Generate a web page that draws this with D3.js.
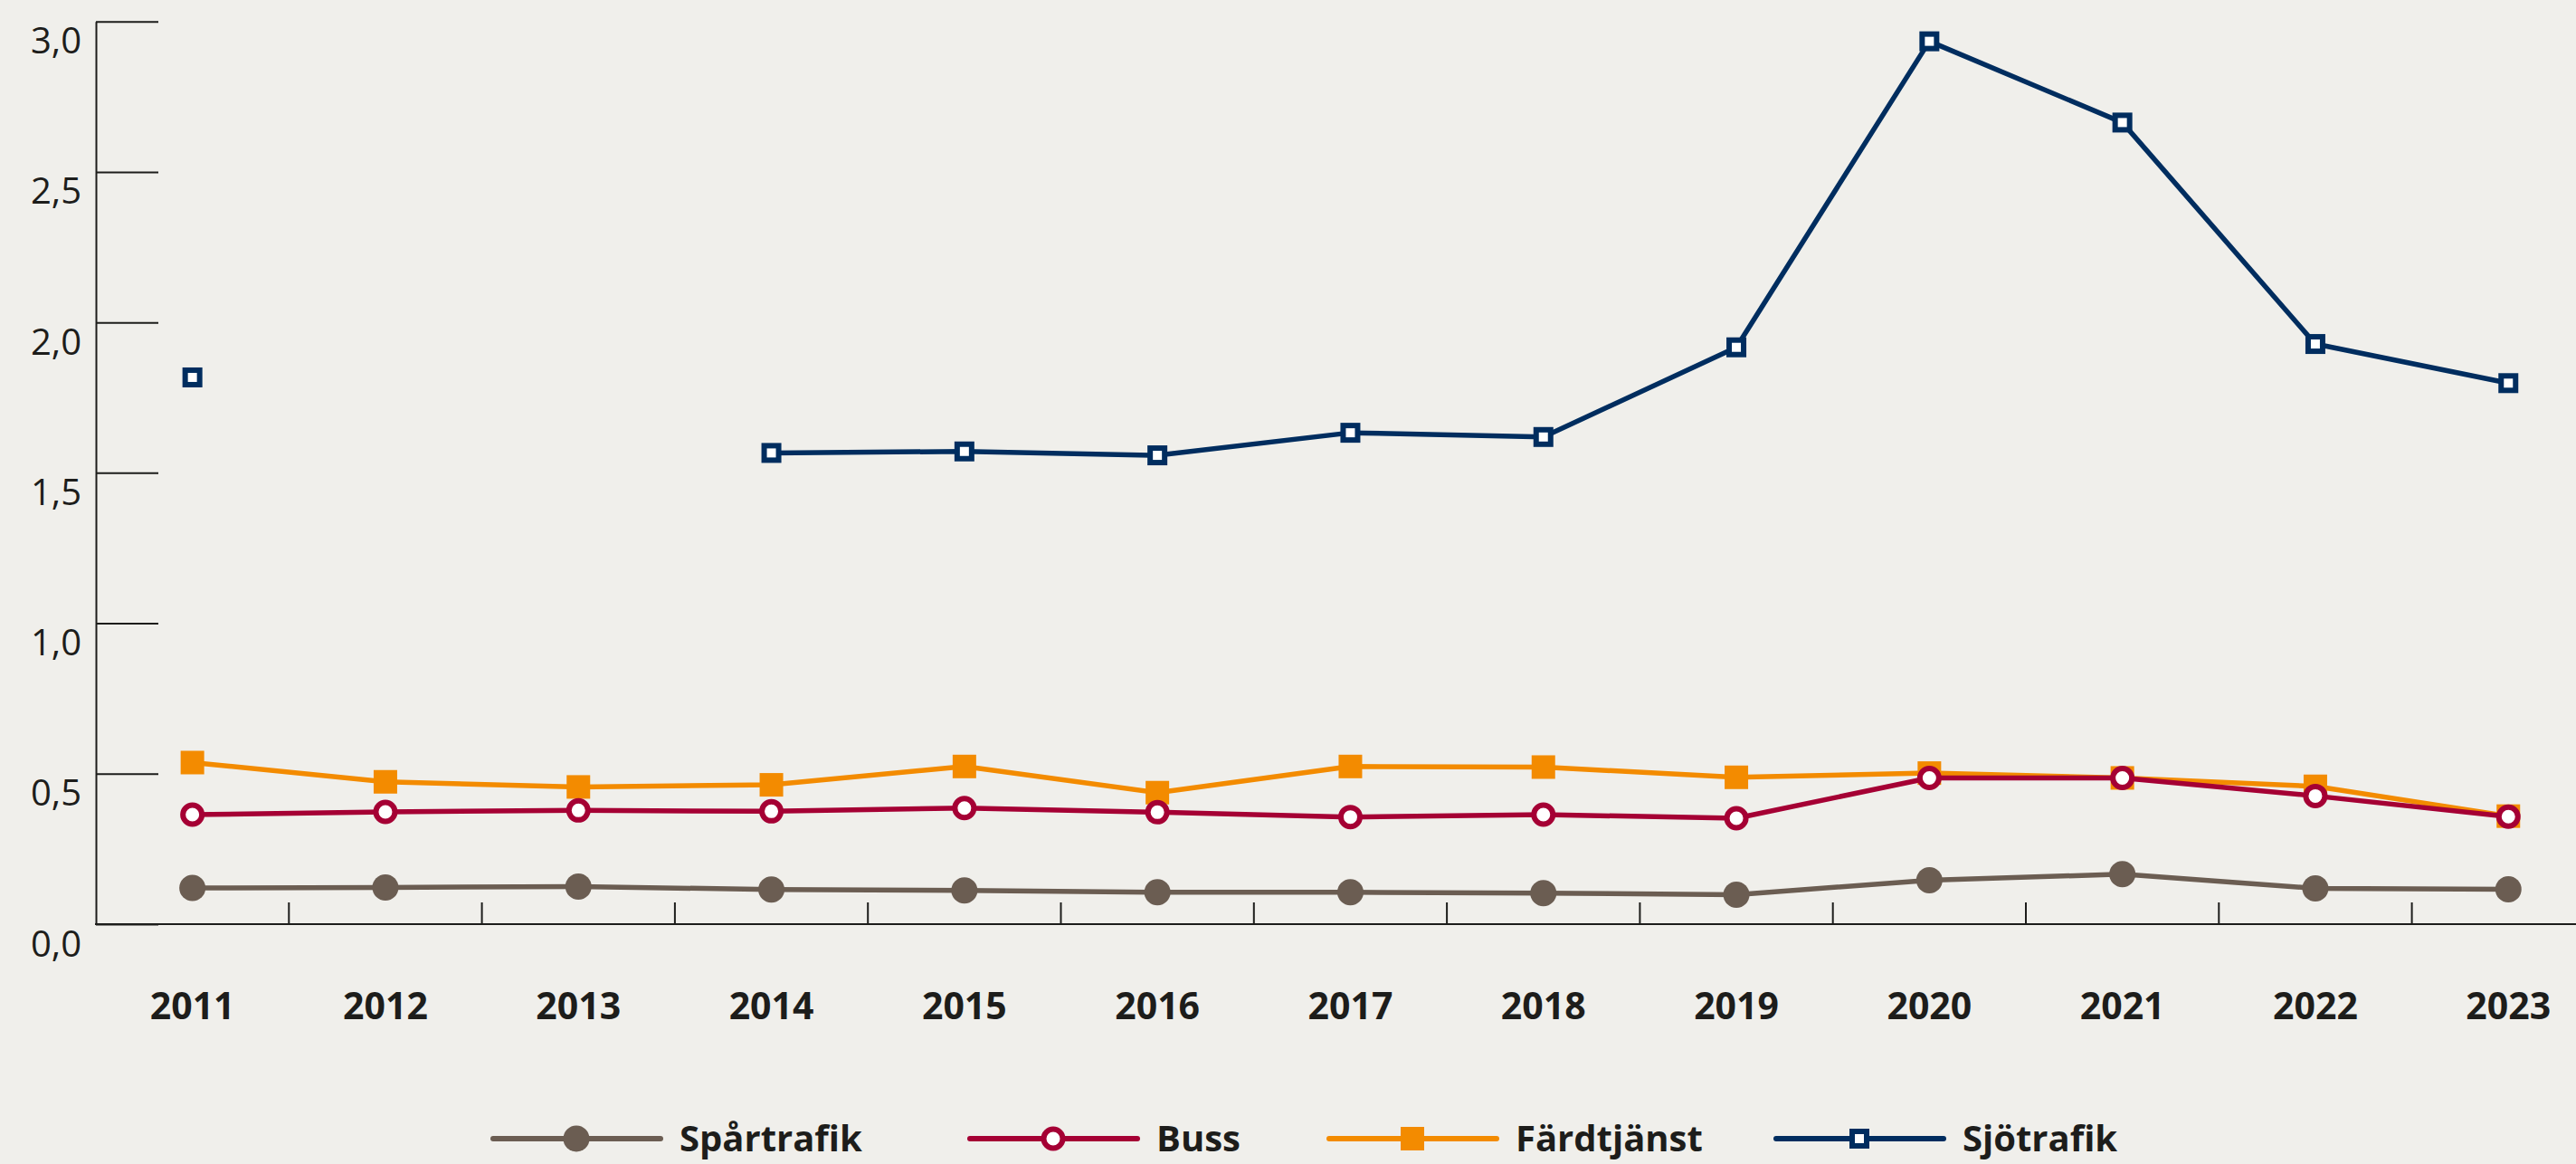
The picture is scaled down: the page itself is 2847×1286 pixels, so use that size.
<!DOCTYPE html>
<html>
<head>
<meta charset="utf-8">
<script src="https://cdn.jsdelivr.net/npm/d3@7"></script>
<style>
  body { margin: 0; background: #f0efeb; }
  svg { display: block; font-family: "Open Sans", "Noto Sans", sans-serif; }
</style>
</head>
<body>
<div class="chart"></div>
<script>
// data
var years = ["2011","2012","2013","2014","2015","2016","2017","2018","2019","2020","2021","2022","2023"];
var spartrafik = [0.120, 0.122, 0.125, 0.115, 0.112, 0.106, 0.106, 0.103, 0.098, 0.146, 0.166, 0.119, 0.116];
var buss       = [0.364, 0.373, 0.378, 0.375, 0.386, 0.372, 0.356, 0.364, 0.352, 0.486, 0.486, 0.426, 0.357];
var fardtjanst = [0.537, 0.473, 0.456, 0.463, 0.524, 0.437, 0.524, 0.522, 0.488, 0.502, 0.486, 0.458, 0.359];
var sjotrafik  = [1.817, null, null, 1.566, 1.571, 1.558, 1.633, 1.619, 1.917, 2.934, 2.664, 1.928, 1.798];
var yTicks = [0, 0.5, 1.0, 1.5, 2.0, 2.5, 3.0];
var seriesNames = ["Spårtrafik", "Buss", "Färdtjänst", "Sjötrafik"];

//----------------------------------------------------------
// setup

var w = 2847;
var h = 1286;
var axisColor = "#1d1d1b";
var fontFam = '"Open Sans", "Noto Sans", sans-serif';

var svg = d3.select(".chart")
  .append("svg")
  .attr("width", w)
  .attr("height", h);

svg.append("rect")
  .attr("width", w)
  .attr("height", h)
  .attr("fill", "#f0efeb");

var x = d3.scaleBand()
  .domain(years)
  .range([106, 106 + 13 * 213.3])
  .padding(0);

var y = d3.scaleLinear()
  .domain([0, 3])
  .range([1021, 23.7]);

function cx(d, i) { return x(years[i]) + x.bandwidth() / 2; }

//----------------------------------------------------------
// axes

// y axis: labels left, ticks pointing into the plot
var yAxis = svg.append("g")
  .attr("transform", "translate(106,0)")
  .call(d3.axisLeft(y)
    .tickValues(yTicks)
    .tickSizeInner(-69)
    .tickSizeOuter(0)
    .tickPadding(16)
    .tickFormat(function(d) { return d3.format(".1f")(d).replace(".", ","); }))
  .attr("font-family", fontFam)
  .attr("font-size", 40);

yAxis.select(".domain").attr("stroke", axisColor).attr("stroke-width", 2);
yAxis.selectAll(".tick line").attr("stroke", axisColor).attr("stroke-width", 2);
yAxis.selectAll(".tick text")
  .attr("fill", axisColor)
  .attr("dy", 35);

// x axis line across the whole width
svg.append("line")
  .attr("x1", 105)
  .attr("x2", w)
  .attr("y1", y(0))
  .attr("y2", y(0))
  .attr("stroke", axisColor)
  .attr("stroke-width", 2);

// small ticks between years
svg.selectAll(".xtick")
  .data(years.slice(1))
  .enter()
  .append("line")
  .attr("class", "xtick")
  .attr("x1", function(d) { return x(d); })
  .attr("x2", function(d) { return x(d); })
  .attr("y1", y(0))
  .attr("y2", y(0) - 24)
  .attr("stroke", axisColor)
  .attr("stroke-width", 2);

svg.selectAll(".xlabel")
  .data(years)
  .enter()
  .append("text")
  .attr("class", "xlabel")
  .attr("x", function(d) { return x(d) + x.bandwidth() / 2; })
  .attr("y", 1126)
  .attr("text-anchor", "middle")
  .attr("font-size", 41)
  .attr("font-weight", "bold")
  .attr("fill", axisColor)
  .text(function(d) { return d; });

//----------------------------------------------------------
// series

var series = [
  { name: seriesNames[0], values: spartrafik, color: "#6b5d52", marker: "dot" },
  { name: seriesNames[2], values: fardtjanst, color: "#f38b00", marker: "filledSquare" },
  { name: seriesNames[1], values: buss,       color: "#a50034", marker: "ring" },
  { name: seriesNames[3], values: sjotrafik,  color: "#002d5f", marker: "openSquare" }
];

var line = d3.line()
  .defined(function(d) { return d != null; })
  .x(cx)
  .y(function(d) { return y(d); });

function drawMarker(g, type, color) {
  if (type == "dot") {
    g.append("circle").attr("r", 14.5).attr("fill", color);
  } else if (type == "ring") {
    g.append("circle").attr("r", 10.5).attr("fill", "#fff")
      .attr("stroke", color).attr("stroke-width", 6);
  } else if (type == "filledSquare") {
    g.append("rect").attr("x", -13).attr("y", -13).attr("width", 26).attr("height", 26)
      .attr("fill", color);
  } else {
    g.append("rect").attr("x", -8).attr("y", -8).attr("width", 16).attr("height", 16)
      .attr("fill", "#fff").attr("stroke", color).attr("stroke-width", 6);
  }
}

series.forEach(function(s) {
  var g = svg.append("g");
  g.append("path")
    .datum(s.values)
    .attr("d", line)
    .attr("fill", "none")
    .attr("stroke", s.color)
    .attr("stroke-width", 5.5)
    .attr("stroke-linejoin", "round");

  g.selectAll(".pt")
    .data(s.values.map(function(v, i) { return { v: v, i: i }; }).filter(function(d) { return d.v != null; }))
    .enter()
    .append("g")
    .attr("class", "pt")
    .attr("transform", function(d) { return "translate(" + cx(d.v, d.i) + "," + y(d.v) + ")"; })
    .each(function() { drawMarker(d3.select(this), s.marker, s.color); });
});

//----------------------------------------------------------
// legend

var legendOrder = [series[0], series[2], series[1], series[3]];
var legendX = [545, 1072, 1469, 1963];
var legendY = 1258;

legendOrder.forEach(function(s, i) {
  var g = svg.append("g").attr("transform", "translate(" + legendX[i] + "," + legendY + ")");
  g.append("line")
    .attr("x1", 0).attr("x2", 185)
    .attr("stroke", s.color)
    .attr("stroke-width", 6)
    .attr("stroke-linecap", "round");
  var m = g.append("g").attr("transform", "translate(92,0)");
  drawMarker(m, s.marker, s.color);
  g.append("text")
    .attr("x", 206)
    .attr("y", 14)
    .attr("font-size", 40)
    .attr("font-weight", "bold")
    .attr("fill", axisColor)
    .text(s.name);
});
</script>
</body>
</html>
